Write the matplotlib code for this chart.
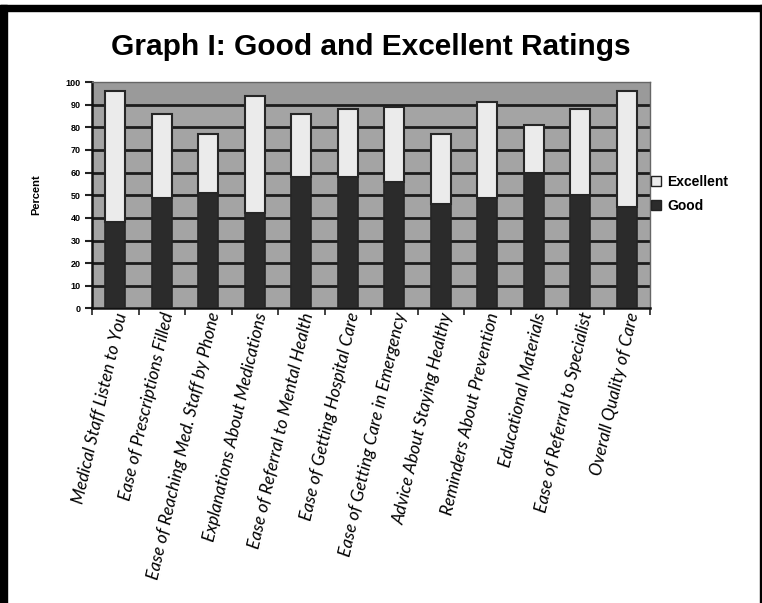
import matplotlib
matplotlib.use("Agg")
import matplotlib.pyplot as plt
import numpy as np
from matplotlib.patches import Rectangle
from matplotlib.lines import Line2D

categories = [
    "Medical Staff Listen to You",
    "Ease of Prescriptions Filled",
    "Ease of Reaching Med. Staff by Phone",
    "Explanations About Medications",
    "Ease of Referral to Mental Health",
    "Ease of Getting Hospital Care",
    "Ease of Getting Care in Emergency",
    "Advice About Staying Healthy",
    "Reminders About Prevention",
    "Educational Materials",
    "Ease of Referral to Specialist",
    "Overall Quality of Care",
]
good = [38, 49, 51, 42, 58, 58, 56, 46, 49, 60, 50, 45]
excellent = [58, 37, 26, 52, 28, 30, 33, 31, 42, 21, 38, 51]
yticks = [0, 10, 20, 30, 40, 50, 60, 70, 80, 90, 100]

W, H = 762, 603
fig = plt.figure(figsize=(W / 100, H / 100), dpi=100)
fig.patch.set_facecolor("white")

# black frame
fig.patches.append(Rectangle((0, 1 - 11 / H), 1, 6 / H, transform=fig.transFigure,
                             color="black", zorder=0))
fig.patches.append(Rectangle((0, 0), 7 / W, 1 - 5 / H, transform=fig.transFigure,
                             color="black", zorder=0))
fig.patches.append(Rectangle((1 - 2 / W, 0), 2 / W, 1 - 5 / H, transform=fig.transFigure,
                             color="black", zorder=0))

left, right, top, bottom = 92, 650, 82, 308.5
ax = fig.add_axes([left / W, 1 - bottom / H, (right - left) / W, (bottom - top) / H])
ax.set_facecolor("#a4a4a4")

x = np.arange(len(categories))
ax.set_xlim(-0.5, len(categories) - 0.5)
ax.set_ylim(0, 100)

for v in yticks[1:-1]:
    ax.axhline(v, color="#1c1c1c", lw=2.0, zorder=1)
ax.axhspan(90, 100, color="#9a9a9a", zorder=0.5, lw=0)

ax.bar(x, good, width=0.43, color="#2b2b2b", edgecolor="#262626", lw=1.2, zorder=3)
ax.bar(x, excellent, bottom=good, width=0.43, color="#ebebeb", edgecolor="#262626",
       lw=1.5, zorder=3)

for s in ["top", "right"]:
    ax.spines[s].set_color("#666666")
    ax.spines[s].set_linewidth(1.0)
ax.spines["left"].set_color("#111111")
ax.spines["left"].set_linewidth(1.8)
ax.spines["bottom"].set_color("#111111")
ax.spines["bottom"].set_linewidth(1.8)

ax.set_yticks(yticks)
ax.set_yticklabels([str(v) for v in yticks], fontsize=6.5, fontweight="bold",
                   family="Liberation Sans")
ax.tick_params(axis="y", length=5, width=1.5, color="#222222", pad=3)

ax.set_xticks(np.arange(-0.5, len(categories) + 0.5, 1.0), minor=False)
ax.set_xticklabels([])
ax.tick_params(axis="x", length=5, width=1.2, color="#222222")

for xi, lab in zip(x, categories):
    ax.text(xi - 0.02, -1.0, lab, rotation=77, rotation_mode="anchor", ha="right", va="top",
            fontsize=12.5, style="italic", family="Lato", color="black",
            transform=ax.transData, clip_on=False)

fig.text(371 / W, 1 - 47 / H, "Graph I: Good and Excellent Ratings", ha="center",
         va="center", fontsize=21.5, fontweight="bold", family="Liberation Sans")
fig.text(36 / W, 1 - 195 / H, "Percent", rotation=90, ha="center", va="center",
         fontsize=8, fontweight="bold", family="Liberation Sans")

handles = [
    Line2D([], [], marker="s", ls="none", markersize=7, markerfacecolor="#ebebeb",
           markeredgecolor="#222222", markeredgewidth=1.0, label="Excellent"),
    Line2D([], [], marker="s", ls="none", markersize=7, markerfacecolor="#2b2b2b",
           markeredgecolor="#222222", markeredgewidth=1.0, label="Good"),
]
fig.legend(handles=handles, loc="center left", bbox_to_anchor=(638 / W, 1 - 194 / H),
           frameon=False, handlelength=0.8, handletextpad=0.4, labelspacing=0.7,
           prop={"family": "Liberation Sans", "weight": "bold", "size": 10})

fig.savefig("out.png", dpi=100)
